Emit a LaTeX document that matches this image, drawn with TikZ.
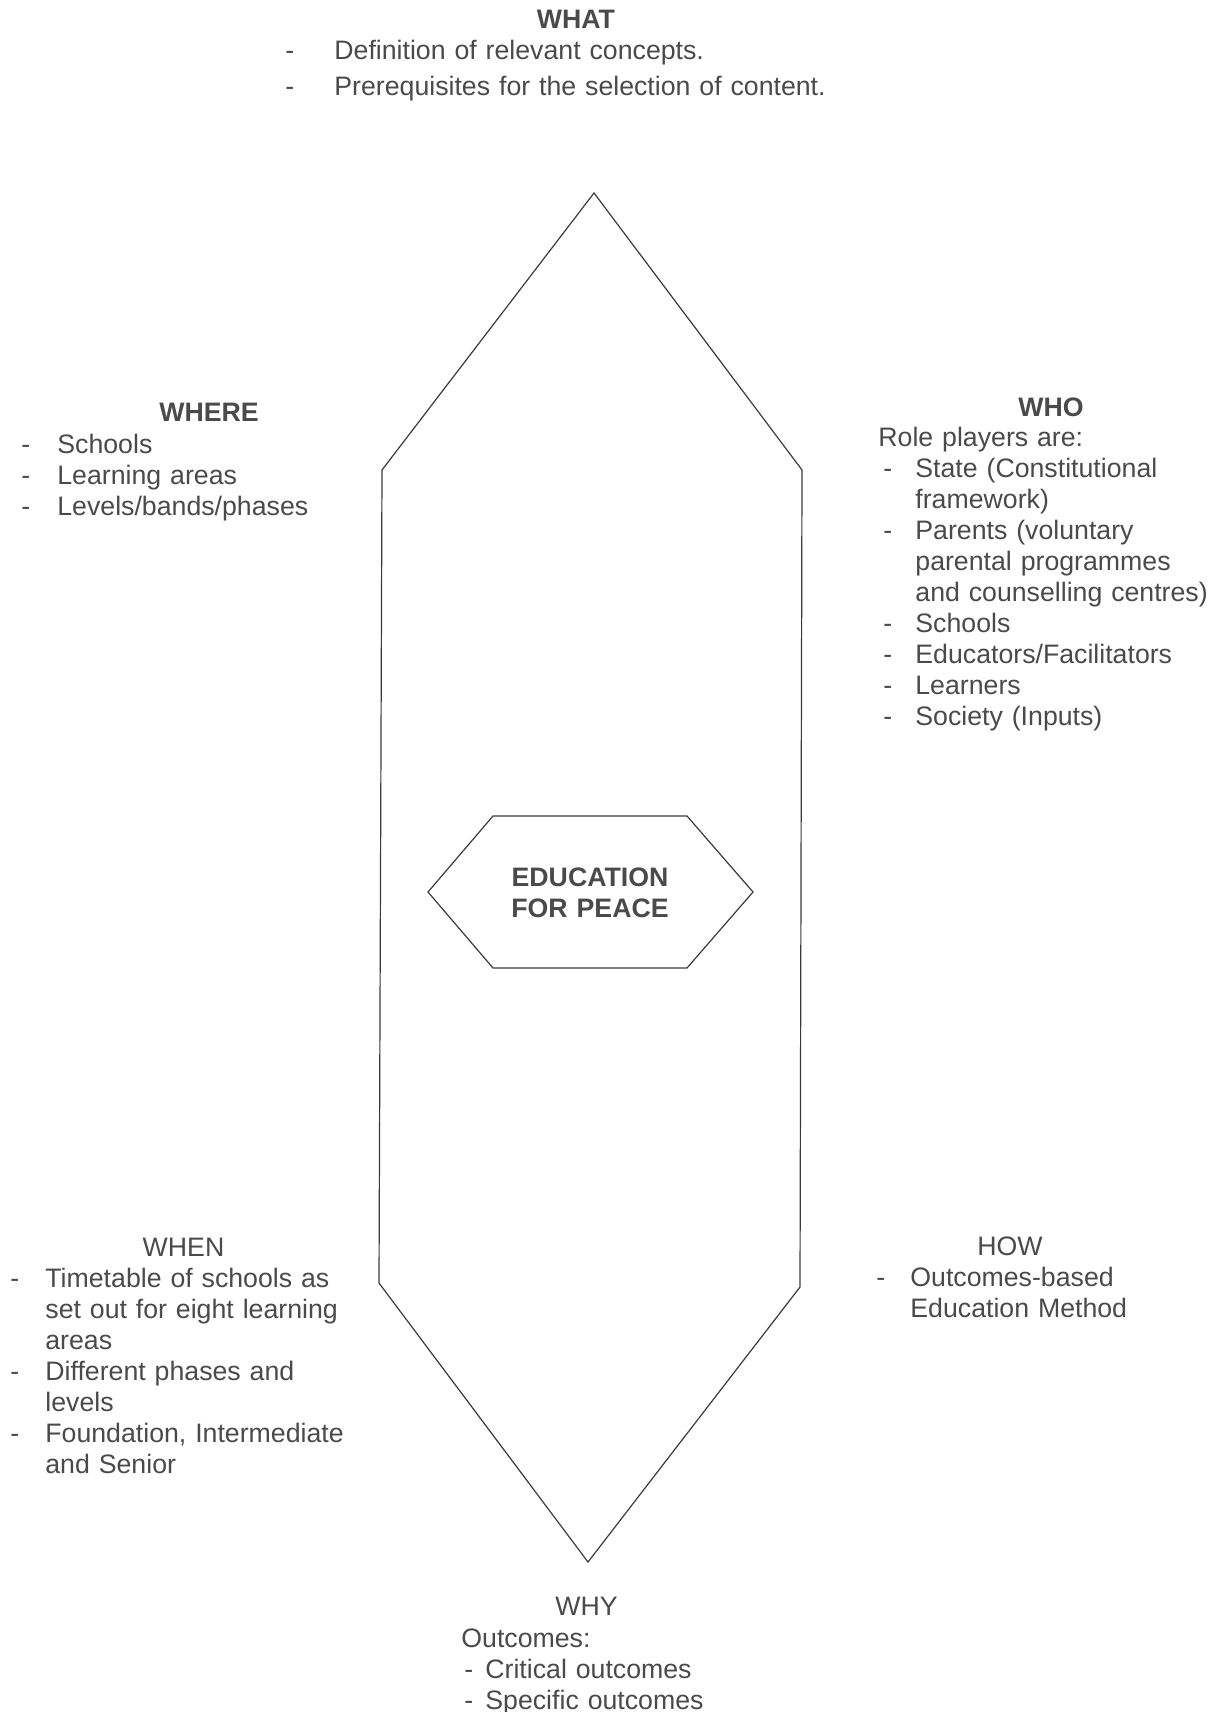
\documentclass[tikz,border=0pt]{standalone}
\usepackage{fontspec}
\setmainfont{Liberation Sans}
\usepackage{xcolor}
\definecolor{inkgray}{HTML}{4A4A4A}
\definecolor{linegray}{HTML}{3A3A3A}
\newcommand{\bodysize}{\fontsize{13.35}{15.5}\selectfont}
% dash item and its continuation line
\newcommand{\itm}[2][16pt]{\makebox[#1][l]{-}#2}
\newcommand{\cnt}[2][16pt]{\hspace*{#1}#2}
\tikzset{
  frame/.style={draw=linegray, line width=0.6pt, line join=miter},
  txt/.style={inner sep=0pt, anchor=base west, align=left, text width=320pt,
    text=inkgray, font=\bodysize},
  head/.style={inner sep=0pt, anchor=base, text=inkgray, font=\bodysize},
  headb/.style={head, font=\bodysize\bfseries}
}
\begin{document}
\begin{tikzpicture}[x=0.5pt, y=-0.5pt]
  \useasboundingbox (0,0) rectangle (1219,1712);
  % outer hexagon
  \coordinate (top) at (594,193);
  \coordinate (ur) at (802,470);
  \coordinate (lr) at (800,1287);
  \coordinate (bot) at (588,1562);
  \coordinate (ll) at (379,1283);
  \coordinate (ul) at (382,470);
  \draw[frame] (top) -- (ur) -- (lr) -- (bot) -- (ll) -- (ul) -- cycle;
  % inner hexagon
  \coordinate (el) at (428,892);
  \coordinate (etl) at (493,816);
  \coordinate (etr) at (687,816);
  \coordinate (er) at (753,892);
  \coordinate (ebr) at (687,968);
  \coordinate (ebl) at (493,968);
  \draw[frame] (el) -- (etl) -- (etr) -- (er) -- (ebr) -- (ebl) -- cycle;
  \node[headb, text width=120pt, align=center] (edu) at (590,886)
    {EDUCATION\\FOR PEACE};

  % WHAT
  \node[headb] (what) at (576,29) {WHAT};
  \node[txt] (whatlist) at (285,60)
    {\itm[24.5pt]{Definition of relevant concepts.}\\[2.5pt]
     \itm[24.5pt]{Prerequisites for the selection of content.}};

  % WHERE
  \node[headb] (where) at (209,421) {WHERE};
  \node[txt] (wherelist) at (21,453)
    {\itm[18pt]{Schools}\\
     \itm[18pt]{Learning areas}\\
     \itm[18pt]{Levels/bands/phases}};

  % WHO
  \node[headb] (who) at (1051,416) {WHO};
  \node[txt] (wholist) at (878,446.5)
    {Role players are:\\
     \hspace*{2.5pt}\itm{State (Constitutional}\\
     \cnt[18.5pt]{framework)}\\
     \hspace*{2.5pt}\itm{Parents (voluntary}\\
     \cnt[18.5pt]{parental programmes}\\
     \cnt[18.5pt]{and counselling centres)}\\
     \hspace*{2.5pt}\itm{Schools}\\
     \hspace*{2.5pt}\itm{Educators/Facilitators}\\
     \hspace*{2.5pt}\itm{Learners}\\
     \hspace*{2.5pt}\itm{Society (Inputs)}};

  % WHEN
  \node[head] (when) at (183.5,1256) {WHEN};
  \node[txt] (whenlist) at (10,1287.6)
    {\itm[17.5pt]{Timetable of schools as}\\
     \cnt[17.5pt]{set out for eight learning}\\
     \cnt[17.5pt]{areas}\\
     \itm[17.5pt]{Different phases and}\\
     \cnt[17.5pt]{levels}\\
     \itm[17.5pt]{Foundation, Intermediate}\\
     \cnt[17.5pt]{and Senior}};

  % HOW
  \node[head] (how) at (1010,1255) {HOW};
  \node[txt] (howlist) at (876,1286.5)
    {\itm[17pt]{Outcomes-based}\\
     \cnt[17pt]{Education Method}};

  % WHY
  \node[head] (why) at (586.6,1615) {WHY};
  \node[txt] (whylist) at (461,1647)
    {Outcomes:\\
     \hspace*{1.5pt}\itm[10.5pt]{Critical outcomes}\\
     \hspace*{1.5pt}\itm[10.5pt]{Specific outcomes}};
\end{tikzpicture}
\end{document}
